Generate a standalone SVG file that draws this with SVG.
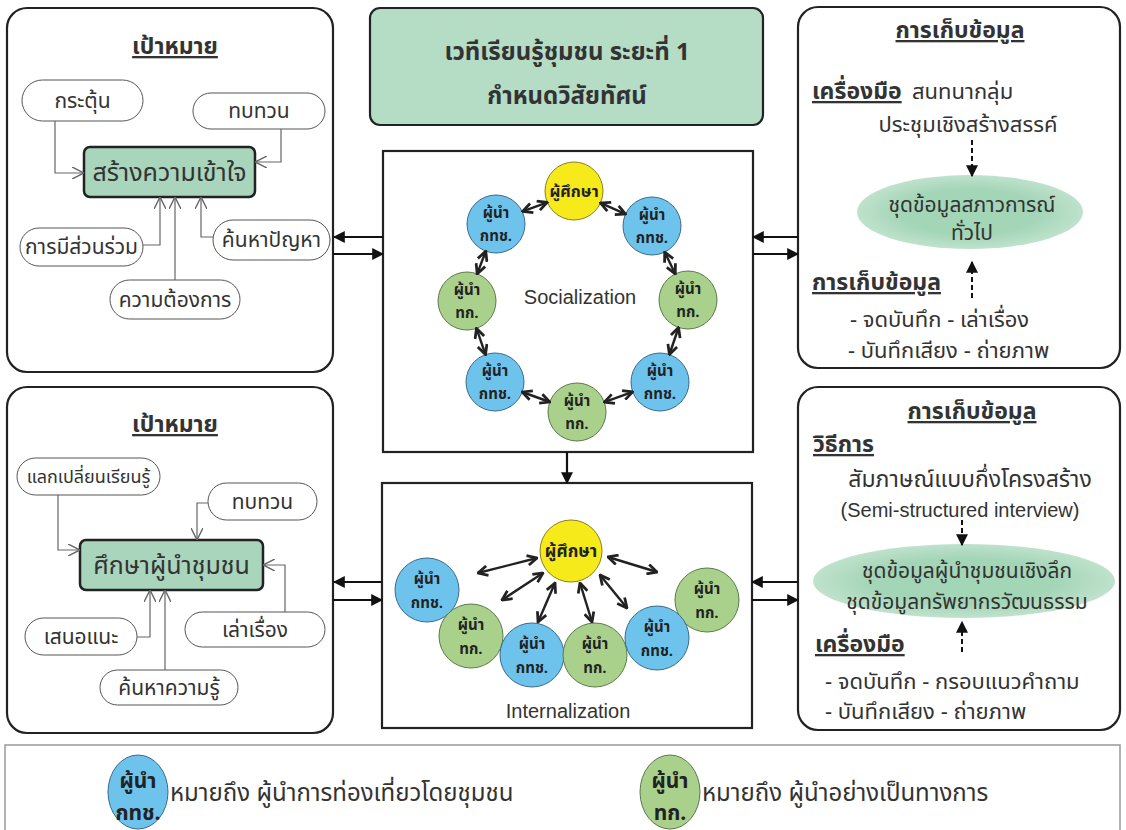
<svg xmlns="http://www.w3.org/2000/svg" width="1126" height="830" viewBox="0 0 1126 830">
<style>
text{font-family:'Noto Sans Thai','Noto Sans','DejaVu Sans',sans-serif;fill:#333}
.lat{font-family:'Liberation Sans',Arial,sans-serif}
.panel{fill:#fff;stroke:#222;stroke-width:2.2}
.pill{fill:#fff;stroke:#555;stroke-width:1}
.gbox{fill:#a8d5bc;stroke:#222;stroke-width:2.5}
.t18{font-size:21px;text-anchor:middle}
.t24{font-size:25px;text-anchor:middle}
.hd{font-size:23px;font-weight:bold;text-decoration:underline}
.thin{fill:none;stroke:#666;stroke-width:1.2;marker-end:url(#open)}
.bold{fill:none;stroke:#111;stroke-width:2.2;marker-end:url(#tri)}
.dbl{fill:none;stroke:#222;stroke-width:2.4;marker-start:url(#chev);marker-end:url(#chev)}
.dash{fill:none;stroke:#111;stroke-width:2;stroke-dasharray:5 3;marker-end:url(#tri)}
.blue{fill:#6ec3ec;stroke:#3a6a8a;stroke-width:1}
.green{fill:#a9d18c;stroke:#5a7a4a;stroke-width:1}
.yellow{fill:#f7ea1a;stroke:#8a8020;stroke-width:1}
.ct{font-size:15px;font-weight:bold;text-anchor:middle;fill:#222}
.body{font-size:22px}
.leg{font-size:21px;font-weight:bold;text-anchor:middle;fill:#222}
</style>
<defs>
<marker id="open" viewBox="0 0 10 10" refX="10" refY="5" markerWidth="12" markerHeight="12" markerUnits="userSpaceOnUse" orient="auto">
<path d="M0,0 L10,5 L0,10" fill="none" stroke="#666" stroke-width="1.2"/>
</marker>
<marker id="tri" viewBox="0 0 10 10" refX="9" refY="5" markerWidth="12" markerHeight="12" markerUnits="userSpaceOnUse" orient="auto">
<path d="M0,0 L10,5 L0,10 z" fill="#111"/>
</marker>
<marker id="chev" viewBox="0 0 10 10" refX="9" refY="5" markerWidth="12" markerHeight="12" markerUnits="userSpaceOnUse" orient="auto-start-reverse">
<path d="M1,1 L9,5 L1,9" fill="none" stroke="#222" stroke-width="2.3"/>
</marker>
<radialGradient id="ell" cx="0.5" cy="0.5" r="0.5">
<stop offset="0.6" stop-color="#a3d5b7"/>
<stop offset="1" stop-color="#bfe2cc"/>
</radialGradient>
</defs>
<rect width="1126" height="830" fill="#fff"/>

<!-- Panels -->
<g id="goal-top">
<rect class="panel" x="7" y="8" width="326" height="364" rx="20"/>
<text class="hd" x="175" y="54" text-anchor="middle">เป้าหมาย</text>
</g>
<g id="title">
<rect x="370" y="8" width="393" height="117" rx="10" fill="#b5dcc5" stroke="#222" stroke-width="2.2"/>
<text x="567" y="60" font-size="24" font-weight="bold" text-anchor="middle">เวทีเรียนรู้ชุมชน ระยะที่ 1</text>
<text x="567" y="104" font-size="24" font-weight="bold" text-anchor="middle">กำหนดวิสัยทัศน์</text>
</g>
<g id="data-top">
<rect class="panel" x="798" y="7" width="322" height="361" rx="20"/>
<text class="hd" x="960" y="38" text-anchor="middle">การเก็บข้อมูล</text>
<text class="hd" x="812" y="99">เครื่องมือ</text>
<text class="body" x="912" y="99">สนทนากลุ่ม</text>
<text class="body" x="968" y="132" text-anchor="middle">ประชุมเชิงสร้างสรรค์</text>
<ellipse cx="970" cy="212" rx="113" ry="37" fill="url(#ell)"/>
<text x="972" y="212" font-size="21" text-anchor="middle">ชุดข้อมูลสภาวการณ์</text>
<text x="972" y="240" font-size="21" text-anchor="middle">ทั่วไป</text>
<text class="hd" x="812" y="290">การเก็บข้อมูล</text>
<text class="body" x="850" y="327">- จดบันทึก - เล่าเรื่อง</text>
<text class="body" x="848" y="358">- บันทึกเสียง  - ถ่ายภาพ</text>
</g>
<g id="goal-bottom">
<rect class="panel" x="7" y="387" width="326" height="346" rx="20"/>
<text class="hd" x="175" y="432" text-anchor="middle">เป้าหมาย</text>
</g>
<g id="data-bottom">
<rect class="panel" x="798" y="387" width="322" height="343" rx="20"/>
<text class="hd" x="972" y="419" text-anchor="middle">การเก็บข้อมูล</text>
<text class="hd" x="813" y="452">วิธีการ</text>
<text x="970" y="487" font-size="23" text-anchor="middle">สัมภาษณ์แบบกึ่งโครงสร้าง</text>
<text class="lat" x="960" y="517" font-size="20" text-anchor="middle">(Semi-structured interview)</text>
<ellipse cx="964" cy="581" rx="151" ry="37" fill="url(#ell)"/>
<text x="967" y="578" font-size="21" text-anchor="middle">ชุดข้อมูลผู้นำชุมชนเชิงลึก</text>
<text x="967" y="609" font-size="21" text-anchor="middle">ชุดข้อมูลทรัพยากรวัฒนธรรม</text>
<text class="hd" x="815" y="652">เครื่องมือ</text>
<text class="body" x="825" y="689">- จดบันทึก - กรอบแนวคำถาม</text>
<text class="body" x="825" y="719">- บันทึกเสียง  - ถ่ายภาพ</text>
</g>
<g id="socialization">
<rect x="383" y="151" width="370" height="301" fill="#fff" stroke="#222" stroke-width="2.2"/>
<text class="lat" x="580" y="304" font-size="20" text-anchor="middle">Socialization</text>
</g>
<g id="internalization">
<rect x="382" y="483" width="370" height="245" fill="#fff" stroke="#222" stroke-width="2.2"/>
<text class="lat" x="568" y="718" font-size="20" text-anchor="middle">Internalization</text>
</g>

<!-- goal-top nodes -->
<g id="n-kratun"><rect class="pill" x="22" y="80" width="121" height="41" rx="20.5"/><text class="t18" x="82.5" y="108">กระตุ้น</text></g>
<g id="n-tobtuan1"><rect class="pill" x="193" y="93" width="132" height="36" rx="18"/><text class="t18" x="259" y="118">ทบทวน</text></g>
<g id="n-understand"><rect class="gbox" x="84" y="147" width="171" height="50" rx="6"/><text class="t24" x="169.5" y="181">สร้างความเข้าใจ</text></g>
<g id="n-participate"><rect class="pill" x="20" y="228" width="123" height="38" rx="19"/><text class="t18" x="81.5" y="254">การมีส่วนร่วม</text></g>
<g id="n-findproblem"><rect class="pill" x="213" y="220" width="117" height="40" rx="20"/><text class="t18" x="271.5" y="247">ค้นหาปัญหา</text></g>
<g id="n-needs"><rect class="pill" x="110" y="280" width="130" height="39" rx="19.5"/><text class="t18" x="175" y="307">ความต้องการ</text></g>

<!-- goal-bottom nodes -->
<g id="n-exchange"><rect class="pill" x="17" y="458" width="143" height="37" rx="18.5"/><text class="t18" x="88.5" y="483" style="font-size:18px">แลกเปลี่ยนเรียนรู้</text></g>
<g id="n-tobtuan2"><rect class="pill" x="208" y="483" width="109" height="37" rx="18.5"/><text class="t18" x="262.5" y="509">ทบทวน</text></g>
<g id="n-study"><rect class="gbox" x="80" y="540" width="183" height="50" rx="6"/><text class="t24" x="171.5" y="574">ศึกษาผู้นำชุมชน</text></g>
<g id="n-suggest"><rect class="pill" x="25" y="618" width="112" height="37" rx="18.5"/><text class="t18" x="81" y="644">เสนอแนะ</text></g>
<g id="n-story"><rect class="pill" x="185" y="612" width="140" height="35" rx="17.5"/><text class="t18" x="255" y="637">เล่าเรื่อง</text></g>
<g id="n-knowledge"><rect class="pill" x="100" y="670" width="138" height="35" rx="17.5"/><text class="t18" x="169" y="695">ค้นหาความรู้</text></g>

<!-- socialization circles -->
<g id="s-student"><circle class="yellow" cx="574" cy="191" r="29"/><text class="ct" x="574" y="197" style="font-size:16px">ผู้ศึกษา</text></g>
<g id="s-ul"><circle class="blue" cx="496" cy="224" r="29"/><text class="ct" x="496" y="218">ผู้นำ<tspan x="496" dy="23">กทช.</tspan></text></g>
<g id="s-ur"><circle class="blue" cx="652" cy="226" r="29"/><text class="ct" x="652" y="220">ผู้นำ<tspan x="652" dy="23">กทช.</tspan></text></g>
<g id="s-lg"><circle class="green" cx="467" cy="301" r="29"/><text class="ct" x="467" y="295">ผู้นำ<tspan x="467" dy="23">ทก.</tspan></text></g>
<g id="s-rg"><circle class="green" cx="688" cy="300" r="29"/><text class="ct" x="688" y="294">ผู้นำ<tspan x="688" dy="23">ทก.</tspan></text></g>
<g id="s-ll"><circle class="blue" cx="495" cy="382" r="29"/><text class="ct" x="495" y="376">ผู้นำ<tspan x="495" dy="23">กทช.</tspan></text></g>
<g id="s-lr"><circle class="blue" cx="660" cy="382" r="29"/><text class="ct" x="660" y="376">ผู้นำ<tspan x="660" dy="23">กทช.</tspan></text></g>
<g id="s-bg"><circle class="green" cx="577" cy="412" r="29"/><text class="ct" x="577" y="406">ผู้นำ<tspan x="577" dy="23">ทก.</tspan></text></g>

<!-- internalization circles -->
<g id="i-student"><circle class="yellow" cx="571" cy="551" r="31"/><text class="ct" x="571" y="557" style="font-size:17px">ผู้ศึกษา</text></g>
<g id="i-b1"><circle class="blue" cx="427" cy="590" r="32"/><text class="ct" x="427" y="584">ผู้นำ<tspan x="427" dy="24">กทช.</tspan></text></g>
<g id="i-g6"><circle class="green" cx="707" cy="600" r="32"/><text class="ct" x="707" y="594">ผู้นำ<tspan x="707" dy="24">ทก.</tspan></text></g>
<g id="i-g2"><circle class="green" cx="471" cy="636" r="32"/><text class="ct" x="471" y="630">ผู้นำ<tspan x="471" dy="24">ทก.</tspan></text></g>
<g id="i-b3"><circle class="blue" cx="532" cy="655" r="32"/><text class="ct" x="532" y="649">ผู้นำ<tspan x="532" dy="24">กทช.</tspan></text></g>
<g id="i-g4"><circle class="green" cx="595" cy="655" r="32"/><text class="ct" x="595" y="649">ผู้นำ<tspan x="595" dy="24">ทก.</tspan></text></g>
<g id="i-b5"><circle class="blue" cx="657" cy="638" r="32"/><text class="ct" x="657" y="632">ผู้นำ<tspan x="657" dy="24">กทช.</tspan></text></g>

<!-- legend -->
<g id="legend">
<rect x="5" y="745" width="1115" height="100" fill="none" stroke="#999" stroke-width="1.5"/>
<ellipse class="blue" cx="138" cy="792" rx="30" ry="37"/>
<text class="leg" x="138" y="788">ผู้นำ<tspan x="138" dy="32">กทช.</tspan></text>
<text x="170" y="801" font-size="24">หมายถึง ผู้นำการท่องเที่ยวโดยชุมชน</text>
<ellipse class="green" cx="670" cy="792" rx="30" ry="37"/>
<text class="leg" x="670" y="788">ผู้นำ<tspan x="670" dy="32">ทก.</tspan></text>
<text x="702" y="801" font-size="24">หมายถึง ผู้นำอย่างเป็นทางการ</text>
</g>

<!-- connectors -->
<g id="connectors">
<path class="thin" d="M55,121 V173 H84"/>
<path class="thin" d="M281,129 V162 H255"/>
<path class="thin" d="M143,245 H160 V197"/>
<path class="thin" d="M175,280 V197"/>
<path class="thin" d="M213,237 H201 V197"/>
<path class="thin" d="M58,495 V550 H80"/>
<path class="thin" d="M208,503 H197 V540"/>
<path class="thin" d="M137,637 H150 V590"/>
<path class="thin" d="M165,670 V590"/>
<path class="thin" d="M285,612 V565 H263"/>

<path class="bold" d="M383,237 H334"/>
<path class="bold" d="M333,254 H383"/>
<path class="bold" d="M798,237 H753"/>
<path class="bold" d="M753,254 H798"/>
<path class="bold" d="M567,452 V483"/>
<path class="bold" d="M382,582 H334"/>
<path class="bold" d="M333,600 H382"/>
<path class="bold" d="M798,582 H752"/>
<path class="bold" d="M752,600 H798"/>

<path class="dash" d="M972,140 V176"/>
<path class="dash" d="M972,298 V262"/>
<path class="dash" d="M962,520 V545"/>
<path class="dash" d="M962,652 V622"/>

<path class="dbl" d="M547.3,202.3 L522.7,211.3"/>
<path class="dbl" d="M600.5,202.9 L625.5,214.1"/>
<path class="dbl" d="M485.8,251.1 L477.2,273.9"/>
<path class="dbl" d="M664.7,252.1 L675.3,273.9"/>
<path class="dbl" d="M476.5,328.4 L485.5,354.6"/>
<path class="dbl" d="M678.6,327.5 L669.4,354.5"/>
<path class="dbl" d="M522.2,392 L549.8,402"/>
<path class="dbl" d="M632.7,391.9 L604.3,402.1"/>

<path class="dbl" d="M478,573 L537,558"/>
<path class="dbl" d="M502,600 L543,573"/>
<path class="dbl" d="M538,622 L555,583"/>
<path class="dbl" d="M580,583 L592,622"/>
<path class="dbl" d="M600,575 L627,608"/>
<path class="dbl" d="M608,557 L657,572"/>
</g>
</svg>
